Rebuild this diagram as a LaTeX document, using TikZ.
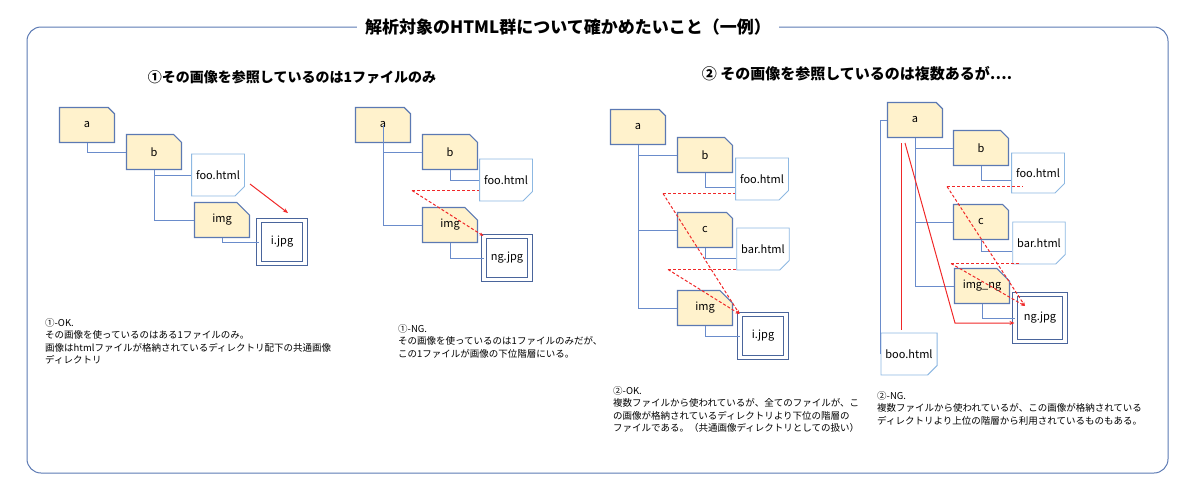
\documentclass[tikz,border=0pt]{standalone}
\usepackage{fontspec}
\setmainfont{Noto Sans CJK JP}
\usetikzlibrary{shapes.misc,arrows.meta}
\definecolor{fold}{HTML}{FFF2CC}
\definecolor{fbord}{HTML}{5B79B3}
\definecolor{fileb}{HTML}{8DB8E2}
\definecolor{conn}{HTML}{6A8CCB}
\definecolor{jpgb}{HTML}{4A659C}
\definecolor{frame}{HTML}{5B79B3}
\definecolor{rr}{HTML}{F02828}
\begin{document}
\begin{tikzpicture}[x=1pt,y=-1pt,
 folder/.style={chamfered rectangle,chamfered rectangle corners=north east,chamfered rectangle xsep=7pt,chamfered rectangle ysep=7pt,fill=fold,draw=fbord,line width=1.1pt,minimum width=55pt,minimum height=35pt,inner sep=0pt,font=\fontsize{11}{12}\selectfont},
 file/.style={chamfered rectangle,chamfered rectangle corners=south east,chamfered rectangle xsep=5pt,chamfered rectangle ysep=5pt,fill=white,draw=fileb,line width=0.9pt,minimum width=47pt,minimum height=42pt,inner sep=0pt,font=\fontsize{11}{12}\selectfont,
   append after command={\pgfextra{\draw[fileb,fill=fileb!40,line width=0.6pt] ([xshift=-5pt]\tikzlastnode.south east)--([xshift=-5pt,yshift=5pt]\tikzlastnode.south east)--([yshift=5pt]\tikzlastnode.south east)--cycle;}}},
 jpg/.style={draw=jpgb,double=white,double distance=3.5pt,line width=1pt,minimum width=46pt,minimum height=43pt,inner sep=0pt,fill=white,font=\fontsize{11}{12}\selectfont},
 tree/.style={draw=conn,line width=1pt},
 rd/.style={draw=rr,dash pattern=on 3pt off 2pt,line width=1pt},
 ra/.style={rd,-{Stealth[length=4pt,width=3pt]}},
 rs/.style={draw=rr,line width=1pt},
 txt/.style={anchor=north west,align=left,inner sep=0pt,font=\fontsize{9.5}{12.5}\selectfont},
 sub/.style={font=\bfseries\fontsize{15}{16}\selectfont}]
\useasboundingbox (0,0) rectangle (1200,498);
\draw[frame,line width=1pt,rounded corners=14pt] (27,27) rectangle (1168,473);
\node[fill=white,inner xsep=8pt,font=\bfseries\fontsize{17}{18}\selectfont] (title) at (568,27) {解析対象のHTML群について確かめたいこと（一例）};
\node[sub,font=\bfseries\fontsize{14}{16}\selectfont] (s1) at (292,77) {①その画像を参照しているのは1ファイルのみ};
\node[sub] (s2) at (857,74) {② その画像を参照しているのは複数あるが….};

% panel 1
\node[folder] (a1) at (87,125) {a};
\node[folder] (b1) at (154,152) {b};
\node[file] (f1) at (218,175) {foo.html};
\node[folder] (i1) at (222,220) {img};
\node[jpg] (j1) at (282,242) {i.jpg};
\draw[tree] (a1.south) |- (b1.west);
\draw[tree] (b1.south) |- (f1.west);
\draw[tree] (b1.south) |- (i1.west);
\draw[tree] (i1.south) |- (j1.west);
\coordinate (r1) at (250,184);
\draw[rs,-{Stealth[length=5pt,width=4pt]}] (r1) -- (288,213);
\node[txt] (t1) at (45,318) {①-OK.\\その画像を使っているのはある1ファイルのみ。\\画像はhtmlファイルが格納されているディレクトリ配下の共通画像\\ディレクトリ};

% panel 2
\node[folder] (a2) at (383,125) {a};
\node[folder] (b2) at (450,152) {b};
\node[file] (f2) at (506,180) {foo.html};
\node[folder] (i2) at (450,225) {img};
\node[jpg] (j2) at (507,258) {ng.jpg};
\draw[tree] (a2.center) |- (b2.west);
\draw[tree] (a2.center) |- (i2.west);
\draw[tree] (b2.south) |- (f2.west);
\draw[tree] (i2.south) |- (j2.west);
\coordinate (d2) at (412,190.5);
\draw[rd] (d2) -- (f2.west |- d2);
\draw[ra] (d2) -- (j2.north west);
\node[txt] (t2) at (398,324) {①-NG.\\その画像を使っているのは1ファイルのみだが、\\この1ファイルが画像の下位階層にいる。};

% panel 3
\node[folder] (a3) at (638,127) {a};
\node[folder] (b3) at (705,155) {b};
\node[file] (f3) at (762,179) {foo.html};
\node[folder] (c3) at (705,230) {c};
\node[file] (h3) at (763,249) {bar.html};
\node[folder] (i3) at (705,308) {img};
\node[jpg] (j3) at (763,336) {i.jpg};
\draw[tree] (a3.south) |- (b3.west);
\draw[tree] (a3.south) |- (c3.west);
\draw[tree] (a3.south) |- (i3.west);
\draw[tree] (b3.south) |- (f3.west |- 0,187);
\draw[tree] (c3.south) |- (h3.west |- 0,258);
\draw[tree] (i3.south) |- (j3.west);
\coordinate (d3a) at (663,193.5);
\coordinate (d3b) at (668,269.5);
\draw[rd] (d3a) -- (f3.west |- d3a);
\draw[rd] (d3b) -- (h3.west |- d3b);
\draw[ra] (d3a) -- (j3.north west);
\draw[ra] (d3b) -- (j3.north west);
\node[txt] (t3) at (613,386) {②-OK.\\複数ファイルから使われているが、全てのファイルが、こ\\の画像が格納されているディレクトリより下位の階層の\\ファイルである。（共通画像ディレクトリとしての扱い）};

% panel 4
\node[folder] (a4) at (915,120) {a};
\node[folder] (b4) at (981,148) {b};
\node[file,minimum height=40pt] (f4) at (1038,173) {foo.html};
\node[folder] (c4) at (981,222) {c};
\node[file] (h4) at (1039,243) {bar.html};
\node[folder] (i4) at (982,286) {img\_ng};
\node[jpg,minimum width=50pt,minimum height=47pt] (j4) at (1040,318) {ng.jpg};
\node[file] (o4) at (909,354) {boo.html};
\draw[tree] (a4.south) |- (b4.west);
\draw[tree] (a4.south) |- (c4.west);
\draw[tree] (a4.south) |- (i4.west);
\draw[tree] (b4.south) |- (f4.west |- 0,180);
\draw[tree] (c4.south) |- (h4.west |- 0,251);
\draw[tree] (i4.south) |- (j4.west);
\draw[tree] (a4.west) -| (880,353) -- (o4.west |- 0,353);
\coordinate (s4a) at (901.5,143);
\coordinate (s4b) at (905,143);
\draw[rs] (s4a) -- (901.5,330);
\draw[rs,-{Stealth[length=5pt,width=4pt]}] (s4b) -- (955,323) -- (j4.west |- 0,323);
\coordinate (d4a) at (947,186.5);
\coordinate (d4b) at (951,263.5);
\draw[rd] (d4a) -- (1023,186.5);
\draw[rd] (d4b) -- (1020,263.5);
\draw[ra] (d4a) -- (1025,306);
\draw[ra] (d4b) -- (1025,306);
\node[txt] (t4) at (877,391) {②-NG.\\複数ファイルから使われているが、この画像が格納されている\\ディレクトリより上位の階層から利用されているものもある。};
\end{tikzpicture}
\end{document}
